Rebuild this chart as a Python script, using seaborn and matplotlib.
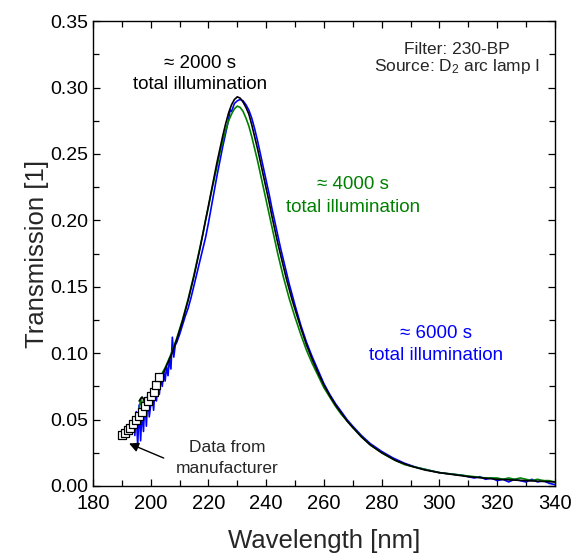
import numpy as np
import pandas as pd
import matplotlib
matplotlib.use("Agg")
import matplotlib.pyplot as plt
import seaborn as sns
from matplotlib.ticker import MultipleLocator

# ---------------- data ----------------
black_wl = [196, 197, 198, 199, 200, 201, 202, 203, 204, 205, 206, 207, 208, 209, 210,
            211, 212, 213, 214, 215, 216, 217, 218, 219, 220, 221, 222, 223, 224, 225,
            226, 227, 228, 229, 230, 231, 232, 233, 234, 235, 236, 237, 238, 239, 240,
            241, 242, 243, 244, 245, 246, 247, 248, 249, 250, 252, 254, 256, 258, 260,
            262, 264, 266, 268, 270, 273, 276, 280, 285, 290, 295, 300, 310, 320, 330, 340]
black_T = [0.064, 0.067, 0.064, 0.067, 0.069, 0.072, 0.075, 0.079, 0.083, 0.088, 0.093, 0.098,
           0.104, 0.110, 0.117, 0.124, 0.132, 0.140, 0.149, 0.158, 0.168, 0.178, 0.189, 0.200,
           0.211, 0.222, 0.233, 0.244, 0.254, 0.264, 0.273, 0.281, 0.287, 0.291, 0.293, 0.292,
           0.289, 0.285, 0.280, 0.272, 0.263, 0.254, 0.244, 0.234, 0.224, 0.214, 0.203, 0.193,
           0.183, 0.174, 0.165, 0.156, 0.148, 0.140, 0.133, 0.119, 0.106, 0.095, 0.085, 0.076,
           0.068, 0.061, 0.055, 0.049, 0.044, 0.037, 0.031, 0.025, 0.019, 0.015, 0.012, 0.010,
           0.007, 0.005, 0.004, 0.003]

green_wl = [196, 196.5, 197, 197.5, 198, 198.5, 199, 200, 201, 202, 203, 204, 205, 206, 207,
            208, 209, 210, 211, 212, 213, 214, 215, 216, 217, 218, 219, 220, 221, 222, 223,
            224, 225, 226, 227, 228, 229, 230, 231, 232, 233, 234, 235, 236, 237, 238, 239,
            240, 241, 242, 243, 244, 245, 246, 247, 248, 249, 250, 252, 254, 256, 258, 260,
            262, 264, 266, 268, 270, 273, 276, 280, 284, 288, 292, 296, 300, 304, 308, 312,
            316, 320, 322, 324, 326, 328, 330, 332, 334, 336, 338, 340]
green_T = [0.057, 0.066, 0.059, 0.065, 0.061, 0.066, 0.064, 0.068, 0.072, 0.076, 0.080, 0.085,
           0.089, 0.094, 0.099, 0.105, 0.111, 0.118, 0.125, 0.133, 0.141, 0.150, 0.159, 0.169,
           0.179, 0.189, 0.200, 0.210, 0.221, 0.231, 0.241, 0.251, 0.260, 0.268, 0.275, 0.280,
           0.284, 0.286, 0.285, 0.282, 0.277, 0.271, 0.263, 0.254, 0.245, 0.235, 0.225, 0.215,
           0.205, 0.195, 0.185, 0.175, 0.166, 0.157, 0.149, 0.141, 0.134, 0.127, 0.114, 0.102,
           0.092, 0.083, 0.074, 0.067, 0.060, 0.054, 0.049, 0.044, 0.037, 0.031, 0.025, 0.020,
           0.016, 0.014, 0.012, 0.010, 0.009, 0.008, 0.007, 0.006, 0.006, 0.005, 0.006, 0.005,
           0.006, 0.005, 0.004, 0.005, 0.004, 0.004, 0.003]

blue_wl = [194.5, 195, 195.5, 196, 196.5, 197, 197.5, 198, 198.5, 199, 199.5, 200, 200.5, 201,
           201.5, 202, 202.5, 203, 203.5, 204, 204.5, 205, 205.5, 206, 206.5, 207, 207.5, 208,
           208.5, 209, 210, 211, 212, 213, 214, 215, 216, 217, 218, 219, 220, 221, 222, 223,
           224, 225, 226, 227, 227.5, 228, 228.5, 229, 230, 231, 232, 233, 234, 235, 236, 237,
           238, 239, 240, 241, 242, 243, 244, 245, 246, 247, 248, 249, 250, 252, 254, 256, 258,
           260, 262, 264, 266, 268, 270, 273, 276, 280, 284, 288, 292, 296, 300, 304, 308, 312,
           314, 316, 318, 320, 322, 324, 326, 328, 330, 332, 334, 336, 338, 340]
blue_T = [0.038, 0.056, 0.030, 0.061, 0.034, 0.057, 0.041, 0.066, 0.045, 0.069, 0.052, 0.061,
          0.073, 0.057, 0.074, 0.064, 0.079, 0.069, 0.082, 0.075, 0.086, 0.079, 0.090, 0.083,
          0.096, 0.088, 0.112, 0.097, 0.106, 0.108, 0.114, 0.121, 0.128, 0.134, 0.142, 0.151,
          0.160, 0.169, 0.178, 0.187, 0.198, 0.210, 0.222, 0.234, 0.245, 0.256, 0.266, 0.276,
          0.283, 0.282, 0.285, 0.288, 0.290, 0.291, 0.290, 0.287, 0.283, 0.277, 0.269, 0.260,
          0.250, 0.240, 0.230, 0.220, 0.209, 0.199, 0.189, 0.179, 0.170, 0.161, 0.152, 0.144,
          0.136, 0.121, 0.108, 0.097, 0.087, 0.077, 0.069, 0.062, 0.056, 0.050, 0.045, 0.038,
          0.032, 0.026, 0.021, 0.017, 0.014, 0.012, 0.010, 0.009, 0.008, 0.006, 0.007, 0.005,
          0.006, 0.004, 0.005, 0.003, 0.005, 0.004, 0.003, 0.005, 0.003, 0.004, 0.002, 0.001]

maker_wl = [190, 191, 192, 193, 194, 195, 196, 197, 198, 199, 200, 201, 202, 203]
maker_T = [0.038, 0.040, 0.042, 0.044, 0.047, 0.050, 0.053, 0.056, 0.060, 0.064, 0.068,
           0.071, 0.076, 0.082]

series_names = ["2000 s", "4000 s", "6000 s"]
series_colors = ["#000000", "#008000", "#0000ff"]

x_ticks = [180, 200, 220, 240, 260, 280, 300, 320, 340]
y_ticks = [0.00, 0.05, 0.10, 0.15, 0.20, 0.25, 0.30, 0.35]

# ---------------- style ----------------
sns.set_style("ticks")
FONT = ["Liberation Sans", "DejaVu Sans"]
plt.rcParams["font.family"] = FONT
plt.rcParams["mathtext.fontset"] = "custom"
plt.rcParams["mathtext.rm"] = "Liberation Sans"
plt.rcParams["mathtext.it"] = "Liberation Sans:italic"

fig = plt.figure(figsize=(5.81, 5.56), dpi=100)
ax = fig.add_axes([0.160, 0.126, 0.795, 0.836])

df = pd.concat([
    pd.DataFrame({"wl": black_wl, "T": black_T, "series": series_names[0]}),
    pd.DataFrame({"wl": green_wl, "T": green_T, "series": series_names[1]}),
    pd.DataFrame({"wl": blue_wl, "T": blue_T, "series": series_names[2]}),
])
sns.lineplot(data=df, x="wl", y="T", hue="series", hue_order=series_names[::-1],
             palette=dict(zip(series_names, series_colors)), estimator=None,
             sort=False, legend=False, linewidth=1.2, ax=ax)

mdf = pd.DataFrame({"wl": maker_wl, "T": maker_T})
sns.scatterplot(data=mdf, x="wl", y="T", marker="s", s=28, facecolor="white",
                edgecolor="black", linewidth=0.9, ax=ax, zorder=5)

ax.set_xlim(180, 340)
ax.set_ylim(0, 0.35)
ax.set_xticks(x_ticks)
ax.set_yticks(y_ticks)
ax.set_yticklabels([f"{v:.2f}" for v in y_ticks])
ax.xaxis.set_minor_locator(MultipleLocator(10))
ax.yaxis.set_minor_locator(MultipleLocator(0.025))
ax.tick_params(which="both", direction="in", top=True, right=True, width=0.9,
               labelsize=14.5, colors="black")
ax.tick_params(which="major", length=5)
ax.tick_params(which="minor", length=4)
ax.tick_params(axis="x", which="major", pad=5.5)
ax.tick_params(axis="y", which="major", labelsize=14)
for s in ax.spines.values():
    s.set_linewidth(1.0)
    s.set_color("black")

ax.set_xlabel("Wavelength [nm]", fontsize=18.5, labelpad=12)
ax.set_ylabel("Transmission [1]", fontsize=18.5, labelpad=1)

ax.text(217, 0.318, "\u2248 2000 s", ha="center", va="center", fontsize=13.5, color="black")
ax.text(217, 0.302, "total illumination", ha="center", va="center", fontsize=13.5, color="black")
ax.text(270, 0.227, "\u2248 4000 s", ha="center", va="center", fontsize=13.5, color="#008000")
ax.text(270, 0.210, "total illumination", ha="center", va="center", fontsize=13.5, color="#008000")
ax.text(299, 0.115, "\u2248 6000 s", ha="center", va="center", fontsize=13.5, color="#0000ff")
ax.text(299, 0.098, "total illumination", ha="center", va="center", fontsize=13.5, color="#0000ff")

ax.text(306, 0.3285, "Filter: 230-BP", ha="center", va="center", fontsize=12.5)
ax.text(306, 0.3155, "Source: D$_2$ arc lamp I", ha="center", va="center", fontsize=12.5)

ax.text(226.5, 0.029, "Data from", ha="center", va="center", fontsize=12.5)
ax.text(226.5, 0.0135, "manufacturer", ha="center", va="center", fontsize=12.5)
ax.annotate("", xy=(192.5, 0.032), xytext=(204.5, 0.021),
            arrowprops=dict(arrowstyle="-|>", color="black", lw=1.0,
                            mutation_scale=14, shrinkA=0, shrinkB=0))

fig.savefig("out.png", dpi=100)
